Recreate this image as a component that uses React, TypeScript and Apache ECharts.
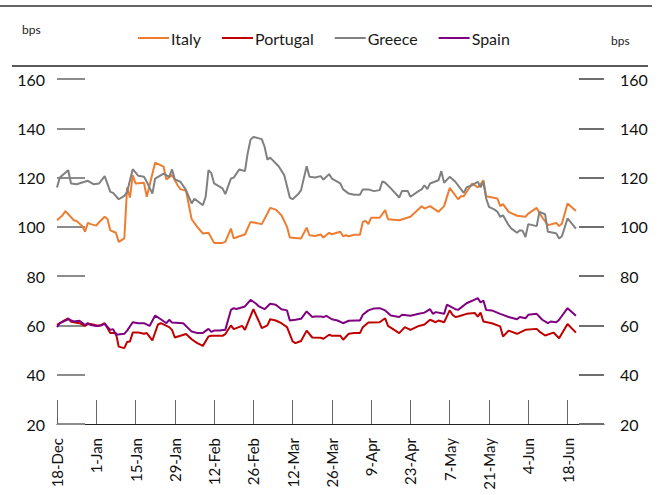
import React, { useEffect, useRef } from "react";
import * as echarts from "echarts";

// Day offsets from 18-Dec-2017 and spread values (bps)
const START = Date.UTC(2017, 11, 18);
const MONTHS = ["Jan", "Feb", "Mar", "Apr", "May", "Jun", "Jul", "Aug", "Sep", "Oct", "Nov", "Dec"];
const tickDays = [0, 14, 28, 42, 56, 70, 84, 98, 112, 126, 140, 154, 168, 182];

const italyDays = [0, 2, 3, 6, 7, 9, 10, 11, 12, 14, 15, 17, 18, 19, 21, 22, 24, 25, 26, 27, 28, 31, 32, 35, 38, 39, 41, 43, 44, 46, 48, 50, 52, 54, 56, 59, 60, 62, 63, 65, 67, 69, 71, 73, 75, 76, 78, 80, 82, 83, 87, 89, 90, 92, 94, 95, 97, 98, 101, 102, 103, 104, 106, 108, 109, 110, 111, 112, 115, 117, 118, 122, 126, 130, 131, 133, 136, 138, 140, 143, 144, 145, 148, 150, 151, 152, 153, 157, 158, 159, 161, 164, 167, 168, 171, 172, 173, 175, 178, 179, 180, 182, 185];
const italyValues = [102.7, 104.7, 106.4, 102.7, 102.4, 100.3, 98.0, 101.6, 101.1, 100.5, 101.9, 104.1, 103.2, 98.6, 97.6, 93.9, 95.3, 116.0, 111.9, 121.0, 117.6, 117.9, 112.2, 126.1, 124.4, 119.2, 121.0, 116.9, 115.3, 114.6, 103.1, 100.0, 97.3, 97.6, 93.5, 93.5, 93.9, 99.3, 95.3, 96.2, 96.9, 102.0, 101.6, 101.1, 105.4, 107.7, 107.0, 104.7, 100.0, 95.7, 95.3, 99.7, 96.6, 96.3, 96.9, 95.7, 97.6, 97.0, 98.0, 96.2, 96.6, 96.2, 96.8, 96.8, 102.0, 102.4, 101.1, 103.7, 103.7, 106.8, 103.1, 102.7, 104.1, 108.4, 107.4, 108.4, 106.1, 108.4, 115.8, 111.2, 112.4, 112.4, 117.6, 116.0, 117.3, 118.9, 112.4, 111.5, 108.4, 109.2, 106.1, 104.5, 104.1, 105.4, 107.7, 105.7, 103.8, 100.7, 101.6, 100.3, 101.4, 109.5, 106.4];

const portugalDays = [0, 2, 4, 5, 8, 10, 11, 12, 15, 17, 19, 21, 22, 24, 25, 26, 27, 29, 31, 32, 34, 36, 37, 40, 41, 42, 44, 46, 48, 50, 52, 54, 55, 59, 60, 62, 63, 66, 67, 70, 72, 73, 75, 76, 78, 80, 82, 84, 85, 87, 89, 91, 94, 95, 97, 98, 101, 102, 104, 106, 108, 109, 111, 115, 117, 118, 122, 124, 126, 129, 131, 133, 135, 136, 138, 140, 141, 142, 143, 146, 149, 150, 151, 152, 155, 158, 159, 161, 164, 167, 171, 172, 174, 177, 179, 182, 185];
const portugalValues = [60.2, 61.6, 62.9, 61.5, 60.9, 59.8, 60.5, 60.6, 59.8, 60.9, 56.9, 56.9, 51.4, 50.8, 53.3, 53.5, 57.1, 57.1, 56.6, 56.9, 53.9, 60.4, 60.9, 59.3, 58.2, 55.1, 55.8, 56.5, 54.4, 52.8, 51.7, 55.5, 55.8, 55.8, 56.5, 60.0, 58.5, 59.8, 58.2, 66.6, 61.6, 58.9, 60.0, 62.5, 62.0, 60.9, 59.3, 53.5, 52.8, 53.7, 57.9, 55.1, 55.0, 54.6, 56.2, 55.8, 55.8, 54.2, 56.6, 56.9, 56.9, 59.3, 61.2, 61.3, 62.9, 59.8, 56.9, 59.3, 58.2, 59.8, 60.4, 62.3, 61.3, 62.0, 61.3, 66.1, 64.3, 63.4, 63.6, 64.7, 65.0, 63.6, 65.2, 61.6, 60.9, 59.6, 55.5, 57.9, 56.6, 58.2, 58.6, 57.5, 55.9, 57.1, 54.8, 60.6, 57.1];

const greeceDays = [0, 1, 4, 5, 7, 11, 13, 15, 17, 19, 20, 22, 24, 25, 27, 29, 31, 32, 34, 35, 38, 40, 41, 42, 44, 46, 47, 48, 49, 52, 53, 54, 55, 56, 59, 60, 62, 63, 65, 67, 68, 69, 70, 73, 74, 75, 76, 79, 81, 83, 84, 86, 87, 89, 90, 92, 94, 95, 97, 98, 101, 102, 104, 106, 108, 109, 111, 113, 115, 116, 117, 119, 122, 123, 125, 126, 129, 130, 131, 132, 133, 136, 137, 138, 140, 142, 145, 146, 148, 150, 151, 152, 153, 154, 156, 157, 158, 159, 161, 162, 164, 165, 166, 167, 168, 171, 172, 174, 175, 177, 178, 179, 180, 182, 185];
const greeceValues = [116.0, 120.0, 123.0, 117.6, 117.3, 118.7, 117.3, 117.6, 120.6, 114.2, 113.8, 111.2, 112.6, 114.2, 123.4, 120.7, 120.3, 118.3, 113.5, 119.6, 121.6, 120.3, 123.3, 119.3, 118.3, 114.9, 112.2, 109.5, 111.4, 108.8, 112.2, 123.0, 121.9, 117.6, 115.6, 113.3, 119.6, 120.0, 123.3, 122.6, 130.0, 135.4, 136.5, 135.6, 132.5, 127.3, 128.1, 124.6, 121.0, 111.9, 111.2, 113.3, 114.9, 124.6, 120.3, 120.0, 120.6, 119.2, 121.4, 119.6, 117.6, 115.2, 113.5, 113.0, 113.0, 115.2, 115.2, 114.5, 114.9, 118.5, 117.9, 115.6, 111.9, 114.6, 114.6, 112.2, 114.6, 115.2, 116.9, 115.3, 117.6, 118.9, 122.6, 117.9, 120.3, 118.3, 113.8, 116.0, 116.9, 118.3, 116.0, 118.3, 111.5, 108.1, 107.0, 106.1, 104.1, 104.7, 100.7, 99.3, 97.6, 98.6, 98.4, 95.9, 101.1, 100.3, 106.1, 105.1, 98.0, 97.6, 97.3, 95.3, 96.2, 103.4, 99.3];

const spainDays = [0, 1, 4, 6, 8, 10, 11, 12, 14, 16, 17, 19, 20, 21, 24, 25, 27, 29, 31, 33, 35, 37, 39, 40, 41, 45, 48, 50, 52, 53, 54, 55, 56, 58, 60, 62, 63, 64, 67, 69, 71, 72, 74, 76, 78, 80, 82, 83, 85, 87, 89, 91, 92, 94, 95, 96, 98, 100, 102, 104, 107, 108, 109, 111, 113, 115, 117, 119, 122, 123, 126, 129, 131, 133, 134, 135, 138, 139, 142, 143, 146, 148, 150, 151, 152, 153, 155, 158, 159, 161, 164, 165, 167, 168, 171, 173, 175, 176, 178, 179, 182, 185];
const spainValues = [59.3, 60.9, 62.5, 61.6, 61.9, 60.2, 60.9, 60.2, 59.8, 60.1, 60.6, 58.2, 58.5, 56.2, 56.6, 57.9, 61.3, 60.9, 60.9, 59.8, 64.0, 62.5, 60.9, 62.3, 61.2, 60.9, 57.5, 56.9, 56.9, 57.8, 58.6, 57.4, 57.9, 57.9, 58.2, 66.3, 67.0, 66.7, 67.7, 70.4, 68.8, 67.7, 66.6, 68.8, 68.4, 66.6, 66.1, 62.0, 62.3, 62.7, 65.7, 63.4, 63.6, 63.6, 63.4, 63.9, 62.5, 62.0, 60.9, 61.9, 62.0, 62.0, 64.3, 66.1, 66.9, 67.0, 66.1, 64.0, 63.4, 64.3, 63.9, 64.7, 65.2, 66.6, 64.7, 65.4, 64.7, 68.4, 66.6, 66.3, 69.0, 70.0, 71.1, 69.3, 70.1, 66.3, 66.1, 64.7, 64.3, 63.4, 62.5, 63.4, 62.9, 64.3, 64.7, 62.3, 60.9, 61.6, 61.3, 62.3, 67.0, 63.9];

const FONT = "Lato, 'Open Sans', sans-serif";

const zip = (days: number[], vals: number[]) => days.map((d, i) => [d, vals[i]]);

const dayLabel = (d: number) => {
  const dt = new Date(START + d * 86400000);
  return `${dt.getUTCDate()}-${MONTHS[dt.getUTCMonth()]}`;
};

export default function App() {
  const ref = useRef<HTMLDivElement>(null);
  useEffect(() => {
    if (!ref.current) return;
    const chart = echarts.init(ref.current, undefined, { renderer: "svg" });
    const mkSeries = (name: string, color: string, days: number[], vals: number[]) => ({
      name,
      type: "line",
      data: zip(days, vals),
      showSymbol: false,
      symbol: "none",
      lineStyle: { color, width: 2 },
      itemStyle: { color },
    });
    chart.setOption({
      animation: false,
      backgroundColor: "#ffffff",
      textStyle: { fontFamily: FONT },
      legend: {
        top: 25,
        left: 133,
        itemWidth: 31,
        itemHeight: 2,
        itemGap: 21,
        icon: "rect",
        textStyle: { fontSize: 16, color: "#1a1a1a", fontFamily: FONT, padding: [0, 0, 0, -3] },
        data: ["Italy", "Portugal", "Greece", "Spain"],
      },
      grid: { left: 57, right: 56, top: 79, bottom: 71, containLabel: false },
      xAxis: {
        type: "value",
        min: 0,
        max: 195,
        interval: 14,
        axisLine: { show: true, lineStyle: { color: "#222", width: 1 } },
        axisTick: {
          show: true,
          inside: true,
          length: 24,
          customValues: tickDays,
          lineStyle: { color: "#666", width: 1 },
        },
        axisLabel: {
          customValues: tickDays,
          rotate: 90,
          fontSize: 15,
          color: "#111",
          margin: 14,
          fontFamily: FONT,
          formatter: (v: number) => dayLabel(v),
        },
        splitLine: { show: false },
      },
      yAxis: [
        {
          type: "value",
          min: 20,
          max: 160,
          interval: 20,
          position: "left",
          axisLine: { show: false },
          axisTick: { show: true, inside: true, length: 28, lineStyle: { color: "#8c8c8c", width: 2 } },
          axisLabel: { fontSize: 16, color: "#111", margin: 12, fontFamily: FONT },
          splitLine: { show: false },
        },
        {
          type: "value",
          min: 20,
          max: 160,
          interval: 20,
          position: "right",
          axisLine: { show: false },
          axisTick: { show: true, inside: true, length: 25, lineStyle: { color: "#6f6f6f", width: 2 } },
          axisLabel: { fontSize: 16, color: "#111", margin: 16, fontFamily: FONT },
          splitLine: { show: false },
        },
      ],
      graphic: [
        { type: "line", shape: { x1: 0, y1: 6, x2: 652, y2: 6 }, style: { stroke: "#333", lineWidth: 1.5 } },
        { type: "line", shape: { x1: 12, y1: 66, x2: 648, y2: 66 }, style: { stroke: "#222", lineWidth: 1.5 } },
        { type: "text", left: 22, top: 23, style: { text: "bps", fontSize: 12, fill: "#222", fontFamily: FONT } },
        { type: "text", left: 611, top: 34, style: { text: "bps", fontSize: 12, fill: "#222", fontFamily: FONT } },
      ],
      series: [
        mkSeries("Italy", "#ED7D31", italyDays, italyValues),
        mkSeries("Portugal", "#C00000", portugalDays, portugalValues),
        mkSeries("Greece", "#808080", greeceDays, greeceValues),
        mkSeries("Spain", "#800080", spainDays, spainValues),
      ],
    });
    return () => chart.dispose();
  }, []);
  return (
    <div
      ref={ref}
      style={{ position: "absolute", left: 0, top: 0, width: 660, height: 495 }}
    />
  );
}
